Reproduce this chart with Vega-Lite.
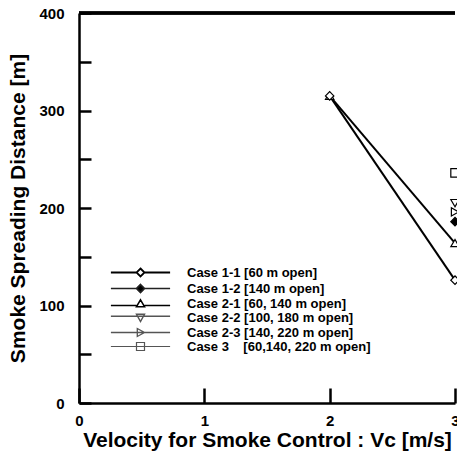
{
  "$schema": "https://vega.github.io/schema/vega-lite/v6.json",
  "autosize": "none",
  "width": 376,
  "height": 390,
  "padding": {"left": 79, "top": 13, "right": 2, "bottom": 49},
  "background": "white",
  "config": {
    "view": {"stroke": null},
    "font": "Liberation Sans",
    "axis": {
      "domainColor": "black", "domainWidth": 2.5, "tickColor": "black", "tickWidth": 2.5, "tickOpacity": 1, "ticks": true, "zindex": 1,
      "labelFont": "Liberation Sans", "labelFontWeight": "bold", "labelFontSize": 15, "labelColor": "black",
      "titleFont": "Liberation Sans", "titleFontWeight": "bold", "titleFontSize": 21, "titleColor": "black",
      "grid": false
    },
    "axisX": {"tickSize": -15, "labelPadding": 25},
    "legend": {
      "labelFont": "Liberation Sans", "labelFontWeight": "bold", "labelFontSize": 13, "labelColor": "black",
      "symbolOpacity": 1, "labelLimit": 400
    }
  },
  "data": {
    "values": [
      {"case": "Case 3\u00a0\u00a0\u00a0\u00a0[60,140, 220 m open]", "vc": 3, "dist": 236},
      {"case": "Case 2-3 [140, 220 m open]", "vc": 3, "dist": 196},
      {"case": "Case 2-2 [100, 180 m open]", "vc": 3, "dist": 205},
      {"case": "Case 1-2 [140 m open]", "vc": 3, "dist": 186},
      {"case": "Case 2-1 [60, 140 m open]", "vc": 2, "dist": 315},
      {"case": "Case 2-1 [60, 140 m open]", "vc": 3, "dist": 164},
      {"case": "Case 1-1 [60 m open]", "vc": 2, "dist": 315},
      {"case": "Case 1-1 [60 m open]", "vc": 3, "dist": 126}
    ]
  },
  "encoding": {
    "x": {
      "field": "vc", "type": "quantitative",
      "scale": {"domain": [0, 3], "nice": false, "zero": true},
      "axis": {"title": "Velocity for Smoke Control : Vc [m/s]", "values": [0, 1, 2, 3], "titlePadding": 1, "format": "d", "labelFlush": false}
    },
    "y": {
      "field": "dist", "type": "quantitative",
      "scale": {"domain": [0, 400], "nice": false},
      "axis": {
        "title": "Smoke Spreading Distance [m]",
        "values": [0, 50, 100, 150, 200, 250, 300, 350, 400],
        "tickSize": -12,
        "labelExpr": "datum.value % 100 === 0 ? datum.label : ''",
        "labelPadding": 27, "titlePadding": 10, "labelFlush": false
      }
    }
  },
  "layer": [
    {
      "mark": {"type": "rule", "color": "black", "strokeWidth": 2.5},
      "encoding": {"y": {"datum": 400}, "x": null}
    },
    {
      "transform": [{"filter": "indexof(datum.case, 'Case 1-1') === 0 || indexof(datum.case, 'Case 2-1') === 0"}],
      "mark": {"type": "line", "color": "black", "strokeWidth": 2, "clip": false},
      "encoding": {"detail": {"field": "case"}}
    },
    {
      "mark": {"type": "point", "opacity": 1, "size": 70, "strokeWidth": 1.2, "clip": false},
      "encoding": {
        "shape": {"field": "case", "type": "nominal", "legend": null,
          "scale": {"range": ["diamond", "diamond", "triangle-up", "triangle-down", "triangle-right", "square"]}},
        "fill": {"field": "case", "type": "nominal", "legend": null,
          "scale": {"range": ["white", "black", "white", "white", "white", "white"]}},
        "stroke": {"value": "black"}
      }
    },
    {
      "mark": {"type": "point", "opacity": 0},
      "encoding": {
        "shape": {"field": "case", "type": "nominal",
          "scale": {"range": [
            "M-7.4,0H-1M1,0H7.4M0,-1L1,0L0,1L-1,0Z",
            "M-7.4,0H-1M1,0H7.4M0,-1L1,0L0,1L-1,0Z",
            "M-7.4,0.5H-1M1,0.5H7.4M0,-0.9L1,0.8L-1,0.8Z",
            "M-7.4,-0.3H7.4M-1,-0.8L1,-0.8L0,1Z",
            "M-7.4,0H7.4M-0.8,-1L1,0L-0.8,1Z",
            "M-7.4,0H7.4M-1,-1H1V1H-1Z"
          ]},
          "legend": {
            "title": null, "orient": "none", "legendX": 55, "legendY": 253,
            "symbolSize": 64, "labelOffset": 40, "rowPadding": 0, "padding": 0
          }
        },
        "fill": {"field": "case", "type": "nominal",
          "scale": {"range": ["transparent", "black", "transparent", "transparent", "transparent", "transparent"]}},
        "stroke": {"field": "case", "type": "nominal",
          "scale": {"range": ["black", "#222222", "black", "#555555", "#555555", "#555555"]}},
        "strokeWidth": {"field": "case", "type": "nominal",
          "scale": {"range": [1.8, 1.2, 1.8, 1, 1, 1]}}
      }
    }
  ],
  "resolve": {"scale": {"shape": "independent", "fill": "independent", "stroke": "independent", "strokeWidth": "independent"}}
}
